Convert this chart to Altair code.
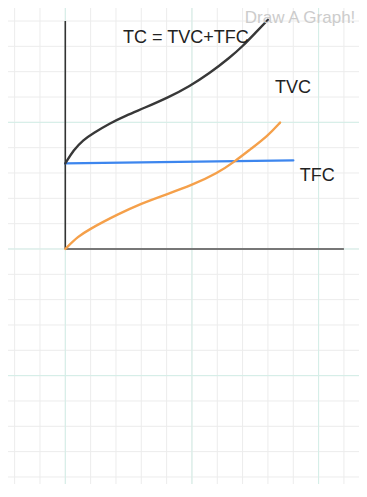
import altair as alt
import pandas as pd

# ---- grid (one unit per grid square; every 5th line is a major line) ----
minor_x = list(range(-2, 12))
major_x = [0, 5, 10]
minor_y = list(range(-9, 10))
major_y = [-5, 0, 5]

# ---- axes extent ----
x_axis_end = 11
y_axis_top = 9

# ---- curves ----
tc_x = [0, 0.33, 0.7, 1.1, 1.75, 2.4, 3.1, 4.1, 4.9, 5.7, 6.5, 7.0, 7.55, 8.0]
tc_y = [3.38, 3.91, 4.3, 4.57, 4.96, 5.27, 5.56, 6.0, 6.42, 6.94, 7.56, 8.0, 8.58, 9.05]

tvc_x = [0, 0.5, 1.0, 1.5, 2.0, 3.0, 4.0, 5.0, 6.0, 6.7, 7.3, 8.0, 8.48]
tvc_y = [0, 0.5, 0.8, 1.07, 1.33, 1.8, 2.16, 2.52, 2.99, 3.46, 3.93, 4.47, 4.99]

tfc_x = [0, 9]
tfc_y = [3.38, 3.5]

# ---- labels ----
labels = ["TC = TVC+TFC", "TVC", "TFC"]
label_x = [2.28, 8.28, 9.26]
label_y = [8.33, 6.36, 2.88]

watermark = "Draw A Graph!"
watermark_x = [11.45]
watermark_y = [9.45]

W, H = 351, 476
X0, Y1, UNIT = -2.262, 9.514, 25.33
xs = alt.Scale(domain=[X0, X0 + W / UNIT], nice=False, zero=False)
ys = alt.Scale(domain=[Y1 - H / UNIT, Y1], nice=False, zero=False)

def X(f="x"):
    return alt.X(f + ":Q", scale=xs, axis=None)

def Y(f="y"):
    return alt.Y(f + ":Q", scale=ys, axis=None)

vgrid_minor = alt.Chart(pd.DataFrame({"x": minor_x})).mark_rule(color="#ececec", strokeWidth=1).encode(x=X())
hgrid_minor = alt.Chart(pd.DataFrame({"y": minor_y})).mark_rule(color="#ececec", strokeWidth=1).encode(y=Y())
vgrid_major = alt.Chart(pd.DataFrame({"x": major_x})).mark_rule(color="#d3eee7", strokeWidth=1).encode(x=X())
hgrid_major = alt.Chart(pd.DataFrame({"y": major_y})).mark_rule(color="#d3eee7", strokeWidth=1).encode(y=Y())

x_axis = alt.Chart(pd.DataFrame({"x": [0], "x2": [x_axis_end], "y": [0]})).mark_rule(
    color="#777777", strokeWidth=2).encode(x=X(), x2="x2:Q", y=Y())
y_axis = alt.Chart(pd.DataFrame({"x": [0], "y": [0], "y2": [y_axis_top]})).mark_rule(
    color="#333333", strokeWidth=1.6).encode(x=X(), y=Y(), y2="y2:Q")

def curve(xv, yv, color):
    df = pd.DataFrame({"x": xv, "y": yv, "o": list(range(len(xv)))})
    return alt.Chart(df).mark_line(color=color, strokeWidth=2.4, interpolate="basis",
                                   strokeCap="round").encode(x=X(), y=Y(), order="o:Q")

tfc = curve(tfc_x, tfc_y, "#3d86ee")
tvc = curve(tvc_x, tvc_y, "#f5a04a")
tc = curve(tc_x, tc_y, "#383838")

text = alt.Chart(pd.DataFrame({"x": label_x, "y": label_y, "t": labels})).mark_text(
    align="left", baseline="middle", font="Liberation Sans", fontSize=18, color="#222222"
).encode(x=X(), y=Y(), text="t:N")

wm = alt.Chart(pd.DataFrame({"x": watermark_x, "y": watermark_y, "t": [watermark]})).mark_text(
    align="right", baseline="top", font="Liberation Sans", fontSize=17, color="#cccccc"
).encode(x=X(), y=Y(), text="t:N")

chart = alt.layer(
    vgrid_minor, hgrid_minor, vgrid_major, hgrid_major,
    x_axis, y_axis, tfc, tvc, tc, text, wm
).properties(
    width=W, height=H, padding=0, autosize=alt.AutoSizeParams(type="none")
).configure_view(stroke=None)

chart.save("out.html", embed_options={"renderer": "svg", "actions": False})
